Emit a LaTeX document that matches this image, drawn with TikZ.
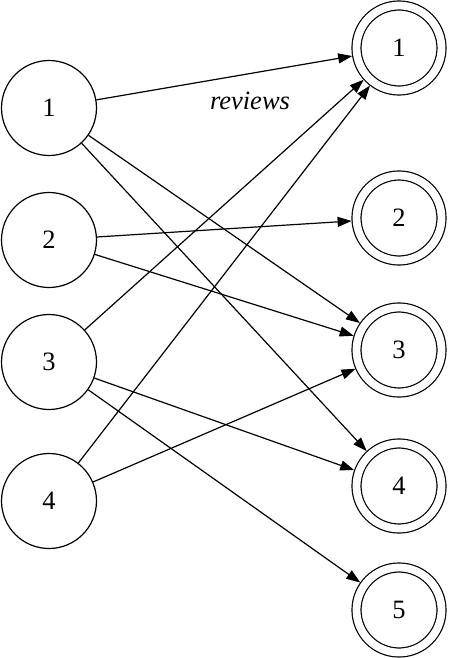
\documentclass[tikz,border=0pt]{standalone}
\usepackage{fontspec}
\setmainfont{Liberation Serif}
\usetikzlibrary{arrows.meta}
\begin{document}
\begin{tikzpicture}[x=1pt,y=-1pt,
  lnode/.style={draw,circle,line width=1.2pt,minimum size=95pt,inner sep=0pt,font=\fontsize{26.5}{30}\selectfont},
  rnode/.style={draw,circle,line width=1.2pt,double,double distance=7.8pt,minimum size=85pt,inner sep=0pt,outer sep=5pt,font=\fontsize{26.5}{30}\selectfont},
  edge/.style={line width=1.2pt,-{Triangle[length=14pt,width=10pt]}}]
\useasboundingbox (0,0) rectangle (448,658);
\node[lnode] (l1) at (49,108) {1};
\node[lnode] (l2) at (49,240) {2};
\node[lnode] (l3) at (49,362) {3};
\node[lnode] (l4) at (49,501) {4};
\node[rnode] (r1) at (399,48) {1};
\node[rnode] (r2) at (399,218) {2};
\node[rnode] (r3) at (399,350) {3};
\node[rnode] (r4) at (399,486) {4};
\node[rnode] (r5) at (399,610) {5};
\draw[edge] (l1) -- (r1);
\node[font=\fontsize{26.5}{30}\selectfont\itshape] (lab) at (250,101) {reviews};
\draw[edge] (l1) -- (r3);
\draw[edge] (l1) -- (r4);
\draw[edge] (l2) -- (r2);
\draw[edge] (l2) -- (r3);
\draw[edge] (l3) -- (r1);
\draw[edge] (l3) -- (r4);
\draw[edge] (l3) -- (r5);
\draw[edge] (l4) -- (r1);
\draw[edge] (l4) -- (r3);
\end{tikzpicture}
\end{document}
